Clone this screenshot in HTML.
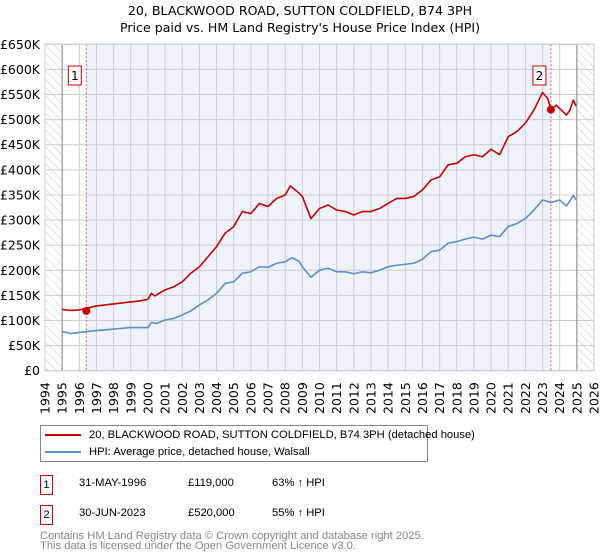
<!DOCTYPE html>
<html><head><meta charset="utf-8"><style>
body{margin:0;width:600px;height:560px;background:#fff;font-family:"DejaVu Sans","Liberation Sans",sans-serif;overflow:hidden}
svg{position:absolute;left:0;top:0}
.sm{font-family:"Liberation Sans",sans-serif;font-size:11.2px}
</style></head><body>
<svg width="600" height="560">
<defs><pattern id="hatch" width="6" height="6" patternUnits="userSpaceOnUse" patternTransform="rotate(-45)"><line x1="0" y1="0" x2="0" y2="6" stroke="#ccc" stroke-width="1"/></pattern></defs>
<g id="g"></g>
</svg>
<script>
const years=[1994,1995,1996,1997,1998,1999,2000,2001,2002,2003,2004,2005,2006,2007,2008,2009,2010,2011,2012,2013,2014,2015,2016,2017,2018,2019,2020,2021,2022,2023,2024,2025,2026];
const yTicks=[0,50,100,150,200,250,300,350,400,450,500,550,600,650];
const yLabels=["£0","£50K","£100K","£150K","£200K","£250K","£300K","£350K","£400K","£450K","£500K","£550K","£600K","£650K"];
const redT=[1995,1995.5,1996,1997,1998,1998.5,1999,1999.5,2000,2000.2,2000.4,2001,2001.5,2002,2002.5,2003,2003.5,2004,2004.5,2005,2005.5,2006,2006.5,2007,2007.5,2008,2008.3,2008.7,2009,2009.5,2010,2010.5,2011,2011.5,2012,2012.5,2013,2013.5,2014,2014.5,2015,2015.5,2016,2016.5,2017,2017.5,2018,2018.5,2019,2019.5,2020,2020.5,2021,2021.5,2022,2022.5,2023,2023.3,2023.5,2023.8,2024,2024.4,2024.6,2024.8,2024.95];
const redV=[122,120,121,129,133,135,137,139,142,154,149,161,167,177,194,207,227,247,274,287,317,313,333,327,343,350,368,357,347,303,323,330,320,317,310,317,317,323,333,343,343,347,360,380,386,410,413,426,430,426,441,430,466,476,493,519,554,542,520,529,522,509,519,539,527];
const blueT=[1995,1995.5,1996.4,1997,1998,1999,2000,2000.2,2000.5,2001,2001.5,2002,2002.5,2003,2003.5,2004,2004.5,2005,2005.5,2006,2006.5,2007,2007.5,2008,2008.4,2008.8,2009,2009.5,2010,2010.5,2011,2011.5,2012,2012.5,2013,2013.5,2014,2014.5,2015,2015.5,2016,2016.5,2017,2017.5,2018,2018.5,2019,2019.5,2020,2020.5,2021,2021.5,2022,2022.5,2023,2023.5,2024,2024.4,2024.8,2024.95];
const blueV=[78,74,78,80,83,86,86,96,94,101,104,111,119,131,141,154,174,177,194,197,207,206,214,217,225,218,207,186,200,204,197,197,193,197,195,200,207,210,212,214,222,237,240,254,257,262,266,262,270,267,287,293,303,320,340,335,340,328,349,340];
const sales=[{t:1996.41,v:119,n:"1"},{t:2023.49,v:520,n:"2"}];
const X=t=>45+(t-1994)*(549/32), Y=v=>370.7-v*(326.4/650);
const g=document.getElementById('g');const NS='http://www.w3.org/2000/svg';
function el(tag,a,p){const e=document.createElementNS(NS,tag);for(const k in a)e.setAttribute(k,a[k]);(p||g).appendChild(e);return e;}
let r=el('rect',{x:45,y:44.3,width:549,height:326.4,fill:'#fff'});

r=el('rect',{x:45,y:44.3,width:X(1995)-45,height:326.4,fill:'url(#hatch)'});

r=el('rect',{x:X(2025),y:44.3,width:594-X(2025),height:326.4,fill:'url(#hatch)'});

r=el('rect',{x:X(sales[0].t),y:44.3,width:X(sales[1].t)-X(sales[0].t),height:326.4,fill:'#eef3fc'});

years.forEach(y=>{const l=el('line',{x1:X(y),x2:X(y),y1:44.3,y2:370.7,stroke:'#ccc','stroke-width':1});

const t=el('text',{x:0,y:0,transform:`translate(${X(y)+4.5},414) rotate(-90)`,'font-size':12.5,fill:'#000'});t.textContent=y;
});
yTicks.forEach((v,i)=>{const l=el('line',{x1:45,x2:594,y1:Y(v),y2:Y(v),stroke:'#ccc','stroke-width':1});

const t=el('text',{x:40,y:Y(v)+4.5,'text-anchor':'end','font-size':12.5});t.textContent=yLabels[i];
});
[1995,2025].forEach(y=>{const l=el('line',{x1:X(y),x2:X(y),y1:44.3,y2:370.7,stroke:'#888','stroke-width':1});
});
sales.forEach(s=>{const l=el('line',{x1:X(s.t),x2:X(s.t),y1:44.3,y2:370.7,stroke:'#e06060','stroke-width':1,'stroke-dasharray':'2,2'});
});
function line(T,V,c,name){const p=el('polyline',{points:T.map((t,i)=>X(t)+','+Y(V[i])).join(' '),fill:'none',stroke:c,'stroke-width':1.6,'stroke-linejoin':'round'});
}
line(blueT,blueV,'#5b8fd0','hpi-line');line(redT,redV,'#cc0000','price-paid-line');
sales.forEach(s=>{const c=el('circle',{cx:X(s.t),cy:Y(s.v),r:4,fill:'#cc0000'});

const b=el('rect',{x:X(s.t)-18,y:66,width:13,height:19,fill:'#fff',stroke:'#cc0000','stroke-width':1});

const t=el('text',{x:X(s.t)-11.5,y:80,'text-anchor':'middle','font-size':12});t.textContent=s.n;
});
r=el('rect',{x:45,y:44.3,width:549,height:326.4,fill:'none',stroke:'#ccc'});

</script>
<div style="position:absolute;left:0;top:2px;width:600px;text-align:center;font-size:12.6px;line-height:17px">20, BLACKWOOD ROAD, SUTTON COLDFIELD, B74 3PH<br>Price paid vs. HM Land Registry's House Price Index (HPI)</div>
<div class="sm" style="position:absolute;left:40px;top:425px;width:386px;height:35px;border:1px solid #888">
<div style="position:absolute;left:4px;top:3px;white-space:nowrap"><span style="display:inline-block;width:36px;height:2px;background:#cc0000;vertical-align:middle;margin-right:8px"></span>20, BLACKWOOD ROAD, SUTTON COLDFIELD, B74 3PH (detached house)</div>
<div style="position:absolute;left:4px;top:20px;white-space:nowrap"><span style="display:inline-block;width:36px;height:2px;background:#5b8fd0;vertical-align:middle;margin-right:8px"></span>HPI: Average price, detached house, Walsall</div>
</div>
<div class="sm" style="position:absolute;left:40px;top:475px;width:560px;height:20px">
<span style="position:absolute;left:0;top:0;width:11px;height:18px;border:1px solid #cc0000;text-align:center;line-height:18px">1</span>
<span style="position:absolute;left:39px;top:2px">31-MAY-1996</span><span style="position:absolute;left:148px;top:2px">£119,000</span><span style="position:absolute;left:232px;top:2px">63% ↑ HPI</span></div>
<div class="sm" style="position:absolute;left:40px;top:505px;width:560px;height:20px">
<span style="position:absolute;left:0;top:0;width:11px;height:18px;border:1px solid #cc0000;text-align:center;line-height:18px">2</span>
<span style="position:absolute;left:39px;top:2px">30-JUN-2023</span><span style="position:absolute;left:148px;top:2px">£520,000</span><span style="position:absolute;left:232px;top:2px">55% ↑ HPI</span></div>
<div class="sm" style="position:absolute;left:40px;top:531px;line-height:10px;color:#888">Contains HM Land Registry data © Crown copyright and database right 2025.<br>This data is licensed under the Open Government Licence v3.0.</div>
</body></html>
